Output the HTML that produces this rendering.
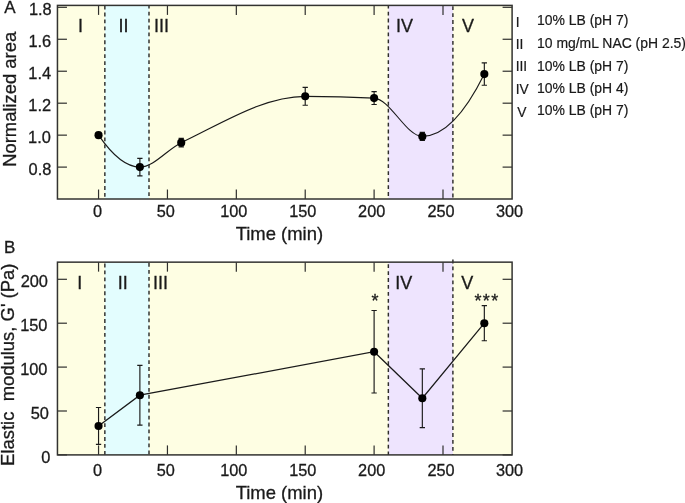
<!DOCTYPE html>
<html><head><meta charset="utf-8"><title>Figure</title>
<style>html,body{margin:0;padding:0;background:#fff}body{width:685px;height:503px;overflow:hidden}</style></head>
<body>
<svg width="685" height="503" viewBox="0 0 685 503" style="display:block">
<rect width="685" height="503" fill="#fff"/>
<rect x="57.45" y="5.4" width="454.65" height="193.60" fill="#fefee3"/>
<rect x="104.85" y="5.4" width="44.15" height="193.60" fill="#e3fdfe"/>
<rect x="388.35" y="5.4" width="64.55" height="193.60" fill="#eee4fe"/>
<line x1="104.85" y1="5.40" x2="104.85" y2="199.0" stroke="#2e2e2c" stroke-width="1.45" stroke-dasharray="3.8,3.14" stroke-dashoffset="6.68"/>
<line x1="149.0" y1="5.40" x2="149.0" y2="199.0" stroke="#2e2e2c" stroke-width="1.45" stroke-dasharray="3.8,3.14" stroke-dashoffset="0.60"/>
<line x1="388.35" y1="5.40" x2="388.35" y2="199.0" stroke="#2e2e2c" stroke-width="1.45" stroke-dasharray="3.8,3.14" stroke-dashoffset="0.70"/>
<line x1="452.9" y1="5.40" x2="452.9" y2="199.0" stroke="#2e2e2c" stroke-width="1.45" stroke-dasharray="3.8,3.14" stroke-dashoffset="6.14"/>
<line x1="98.55" y1="5.4" x2="98.55" y2="14.9" stroke="#30302e" stroke-width="1.2"/>
<line x1="98.55" y1="199.0" x2="98.55" y2="189.5" stroke="#30302e" stroke-width="1.2"/>
<text x="97.65" y="216.70" font-family="Liberation Sans, Arial, sans-serif" stroke="#1a1a1a" stroke-width="0.3" font-size="16.3" text-anchor="middle" fill="#1a1a1a">0</text>
<line x1="167.44" y1="5.4" x2="167.44" y2="14.9" stroke="#30302e" stroke-width="1.2"/>
<line x1="167.44" y1="199.0" x2="167.44" y2="189.5" stroke="#30302e" stroke-width="1.2"/>
<text x="165.84" y="216.70" font-family="Liberation Sans, Arial, sans-serif" stroke="#1a1a1a" stroke-width="0.3" font-size="16.3" text-anchor="middle" fill="#1a1a1a">50</text>
<line x1="236.33" y1="5.4" x2="236.33" y2="14.9" stroke="#30302e" stroke-width="1.2"/>
<line x1="236.33" y1="199.0" x2="236.33" y2="189.5" stroke="#30302e" stroke-width="1.2"/>
<text x="233.73" y="216.70" font-family="Liberation Sans, Arial, sans-serif" stroke="#1a1a1a" stroke-width="0.3" font-size="16.3" text-anchor="middle" fill="#1a1a1a">100</text>
<line x1="305.22" y1="5.4" x2="305.22" y2="14.9" stroke="#30302e" stroke-width="1.2"/>
<line x1="305.22" y1="199.0" x2="305.22" y2="189.5" stroke="#30302e" stroke-width="1.2"/>
<text x="302.82" y="216.70" font-family="Liberation Sans, Arial, sans-serif" stroke="#1a1a1a" stroke-width="0.3" font-size="16.3" text-anchor="middle" fill="#1a1a1a">150</text>
<line x1="374.11" y1="5.4" x2="374.11" y2="14.9" stroke="#30302e" stroke-width="1.2"/>
<line x1="374.11" y1="199.0" x2="374.11" y2="189.5" stroke="#30302e" stroke-width="1.2"/>
<text x="371.71" y="216.70" font-family="Liberation Sans, Arial, sans-serif" stroke="#1a1a1a" stroke-width="0.3" font-size="16.3" text-anchor="middle" fill="#1a1a1a">200</text>
<line x1="443.00" y1="5.4" x2="443.00" y2="14.9" stroke="#30302e" stroke-width="1.2"/>
<line x1="443.00" y1="199.0" x2="443.00" y2="189.5" stroke="#30302e" stroke-width="1.2"/>
<text x="441.00" y="216.70" font-family="Liberation Sans, Arial, sans-serif" stroke="#1a1a1a" stroke-width="0.3" font-size="16.3" text-anchor="middle" fill="#1a1a1a">250</text>
<text x="509.49" y="216.70" font-family="Liberation Sans, Arial, sans-serif" stroke="#1a1a1a" stroke-width="0.3" font-size="16.3" text-anchor="middle" fill="#1a1a1a">300</text>
<line x1="57.45" y1="167.11" x2="66.95" y2="167.11" stroke="#30302e" stroke-width="1.2"/>
<line x1="512.1" y1="167.11" x2="502.6" y2="167.11" stroke="#30302e" stroke-width="1.2"/>
<text x="51.4" y="175.21" font-family="Liberation Sans, Arial, sans-serif" stroke="#1a1a1a" stroke-width="0.3" font-size="16.4" text-anchor="end" fill="#1a1a1a">0.8</text>
<line x1="57.45" y1="135.15" x2="66.95" y2="135.15" stroke="#30302e" stroke-width="1.2"/>
<line x1="512.1" y1="135.15" x2="502.6" y2="135.15" stroke="#30302e" stroke-width="1.2"/>
<text x="50.9" y="142.95" font-family="Liberation Sans, Arial, sans-serif" stroke="#1a1a1a" stroke-width="0.3" font-size="16.4" text-anchor="end" fill="#1a1a1a">1.0</text>
<line x1="57.45" y1="103.19" x2="66.95" y2="103.19" stroke="#30302e" stroke-width="1.2"/>
<line x1="512.1" y1="103.19" x2="502.6" y2="103.19" stroke="#30302e" stroke-width="1.2"/>
<text x="51.1" y="110.79" font-family="Liberation Sans, Arial, sans-serif" stroke="#1a1a1a" stroke-width="0.3" font-size="16.4" text-anchor="end" fill="#1a1a1a">1.2</text>
<line x1="57.45" y1="71.23" x2="66.95" y2="71.23" stroke="#30302e" stroke-width="1.2"/>
<line x1="512.1" y1="71.23" x2="502.6" y2="71.23" stroke="#30302e" stroke-width="1.2"/>
<text x="51.1" y="78.63" font-family="Liberation Sans, Arial, sans-serif" stroke="#1a1a1a" stroke-width="0.3" font-size="16.4" text-anchor="end" fill="#1a1a1a">1.4</text>
<line x1="57.45" y1="39.27" x2="66.95" y2="39.27" stroke="#30302e" stroke-width="1.2"/>
<line x1="512.1" y1="39.27" x2="502.6" y2="39.27" stroke="#30302e" stroke-width="1.2"/>
<text x="51.2" y="46.87" font-family="Liberation Sans, Arial, sans-serif" stroke="#1a1a1a" stroke-width="0.3" font-size="16.4" text-anchor="end" fill="#1a1a1a">1.6</text>
<line x1="57.45" y1="7.31" x2="66.95" y2="7.31" stroke="#30302e" stroke-width="1.2"/>
<line x1="512.1" y1="7.31" x2="502.6" y2="7.31" stroke="#30302e" stroke-width="1.2"/>
<text x="51.7" y="14.81" font-family="Liberation Sans, Arial, sans-serif" stroke="#1a1a1a" stroke-width="0.3" font-size="16.4" text-anchor="end" fill="#1a1a1a">1.8</text>
<rect x="57.45" y="5.4" width="454.65" height="193.60" fill="none" stroke="#333331" stroke-width="1.5"/>
<text x="279.4" y="239.50" font-family="Liberation Sans, Arial, sans-serif" stroke="#1a1a1a" stroke-width="0.3" font-size="18.45" text-anchor="middle" fill="#1a1a1a">Time (min)</text>
<rect x="57.45" y="262.15" width="454.65" height="192.75" fill="#fefee3"/>
<rect x="104.85" y="262.15" width="44.15" height="192.75" fill="#e3fdfe"/>
<rect x="388.35" y="262.15" width="64.55" height="192.75" fill="#eee4fe"/>
<line x1="104.85" y1="262.15" x2="104.85" y2="454.9" stroke="#2e2e2c" stroke-width="1.45" stroke-dasharray="3.8,3.14" stroke-dashoffset="5.49"/>
<line x1="149.0" y1="262.15" x2="149.0" y2="454.9" stroke="#2e2e2c" stroke-width="1.45" stroke-dasharray="3.8,3.14" stroke-dashoffset="6.09"/>
<line x1="388.35" y1="262.15" x2="388.35" y2="454.9" stroke="#2e2e2c" stroke-width="1.45" stroke-dasharray="3.8,3.14" stroke-dashoffset="4.89"/>
<line x1="452.9" y1="259.60" x2="452.9" y2="454.9" stroke="#2e2e2c" stroke-width="1.45" stroke-dasharray="3.8,3.14" stroke-dashoffset="0.00"/>
<line x1="98.55" y1="262.15" x2="98.55" y2="271.65" stroke="#30302e" stroke-width="1.2"/>
<line x1="98.55" y1="454.9" x2="98.55" y2="445.4" stroke="#30302e" stroke-width="1.2"/>
<text x="97.65" y="475.80" font-family="Liberation Sans, Arial, sans-serif" stroke="#1a1a1a" stroke-width="0.3" font-size="16.3" text-anchor="middle" fill="#1a1a1a">0</text>
<line x1="167.44" y1="262.15" x2="167.44" y2="271.65" stroke="#30302e" stroke-width="1.2"/>
<line x1="167.44" y1="454.9" x2="167.44" y2="445.4" stroke="#30302e" stroke-width="1.2"/>
<text x="165.84" y="475.80" font-family="Liberation Sans, Arial, sans-serif" stroke="#1a1a1a" stroke-width="0.3" font-size="16.3" text-anchor="middle" fill="#1a1a1a">50</text>
<line x1="236.33" y1="262.15" x2="236.33" y2="271.65" stroke="#30302e" stroke-width="1.2"/>
<line x1="236.33" y1="454.9" x2="236.33" y2="445.4" stroke="#30302e" stroke-width="1.2"/>
<text x="233.73" y="475.80" font-family="Liberation Sans, Arial, sans-serif" stroke="#1a1a1a" stroke-width="0.3" font-size="16.3" text-anchor="middle" fill="#1a1a1a">100</text>
<line x1="305.22" y1="262.15" x2="305.22" y2="271.65" stroke="#30302e" stroke-width="1.2"/>
<line x1="305.22" y1="454.9" x2="305.22" y2="445.4" stroke="#30302e" stroke-width="1.2"/>
<text x="302.82" y="475.80" font-family="Liberation Sans, Arial, sans-serif" stroke="#1a1a1a" stroke-width="0.3" font-size="16.3" text-anchor="middle" fill="#1a1a1a">150</text>
<line x1="374.11" y1="262.15" x2="374.11" y2="271.65" stroke="#30302e" stroke-width="1.2"/>
<line x1="374.11" y1="454.9" x2="374.11" y2="445.4" stroke="#30302e" stroke-width="1.2"/>
<text x="371.71" y="475.80" font-family="Liberation Sans, Arial, sans-serif" stroke="#1a1a1a" stroke-width="0.3" font-size="16.3" text-anchor="middle" fill="#1a1a1a">200</text>
<line x1="443.00" y1="262.15" x2="443.00" y2="271.65" stroke="#30302e" stroke-width="1.2"/>
<line x1="443.00" y1="454.9" x2="443.00" y2="445.4" stroke="#30302e" stroke-width="1.2"/>
<text x="441.00" y="475.80" font-family="Liberation Sans, Arial, sans-serif" stroke="#1a1a1a" stroke-width="0.3" font-size="16.3" text-anchor="middle" fill="#1a1a1a">250</text>
<text x="509.49" y="475.80" font-family="Liberation Sans, Arial, sans-serif" stroke="#1a1a1a" stroke-width="0.3" font-size="16.3" text-anchor="middle" fill="#1a1a1a">300</text>
<line x1="57.45" y1="454.90" x2="66.95" y2="454.90" stroke="#30302e" stroke-width="1.2"/>
<line x1="512.1" y1="454.90" x2="502.6" y2="454.90" stroke="#30302e" stroke-width="1.2"/>
<text x="50.4" y="463.30" font-family="Liberation Sans, Arial, sans-serif" stroke="#1a1a1a" stroke-width="0.3" font-size="16.4" text-anchor="end" fill="#1a1a1a">0</text>
<line x1="57.45" y1="411.00" x2="66.95" y2="411.00" stroke="#30302e" stroke-width="1.2"/>
<line x1="512.1" y1="411.00" x2="502.6" y2="411.00" stroke="#30302e" stroke-width="1.2"/>
<text x="48.9" y="418.75" font-family="Liberation Sans, Arial, sans-serif" stroke="#1a1a1a" stroke-width="0.3" font-size="16.4" text-anchor="end" fill="#1a1a1a">50</text>
<line x1="57.45" y1="367.10" x2="66.95" y2="367.10" stroke="#30302e" stroke-width="1.2"/>
<line x1="512.1" y1="367.10" x2="502.6" y2="367.10" stroke="#30302e" stroke-width="1.2"/>
<text x="47.5" y="375.05" font-family="Liberation Sans, Arial, sans-serif" stroke="#1a1a1a" stroke-width="0.3" font-size="16.4" text-anchor="end" fill="#1a1a1a">100</text>
<line x1="57.45" y1="323.20" x2="66.95" y2="323.20" stroke="#30302e" stroke-width="1.2"/>
<line x1="512.1" y1="323.20" x2="502.6" y2="323.20" stroke="#30302e" stroke-width="1.2"/>
<text x="47.5" y="331.05" font-family="Liberation Sans, Arial, sans-serif" stroke="#1a1a1a" stroke-width="0.3" font-size="16.4" text-anchor="end" fill="#1a1a1a">150</text>
<line x1="57.45" y1="279.30" x2="66.95" y2="279.30" stroke="#30302e" stroke-width="1.2"/>
<line x1="512.1" y1="279.30" x2="502.6" y2="279.30" stroke="#30302e" stroke-width="1.2"/>
<text x="48.0" y="287.15" font-family="Liberation Sans, Arial, sans-serif" stroke="#1a1a1a" stroke-width="0.3" font-size="16.4" text-anchor="end" fill="#1a1a1a">200</text>
<rect x="57.45" y="262.15" width="454.65" height="192.75" fill="none" stroke="#333331" stroke-width="1.5"/>
<text x="279.4" y="498.50" font-family="Liberation Sans, Arial, sans-serif" stroke="#1a1a1a" stroke-width="0.3" font-size="18.45" text-anchor="middle" fill="#1a1a1a">Time (min)</text>
<path d="M98.55 135.15C112.33 155.20 126.11 167.11 139.88 167.11C153.66 167.11 167.44 149.22 181.22 142.66C222.55 122.99 263.89 96.32 305.22 96.32C328.18 96.32 351.15 96.87 374.11 98.08C390.18 98.92 406.26 136.43 422.33 136.43C443.00 136.43 463.67 115.81 484.33 74.11" stroke="#1a1a1a" stroke-width="1.15" fill="none"/>
<circle cx="98.55" cy="135.15" r="4.05" fill="#000"/>
<path d="M139.88 158.32V175.90M137.23 158.32H142.53M137.23 175.90H142.53" stroke="#1a1a1a" stroke-width="1.15" fill="none"/>
<circle cx="139.88" cy="167.11" r="4.05" fill="#000"/>
<path d="M181.22 138.38V146.94M178.57 138.38H183.87M178.57 146.94H183.87" stroke="#1a1a1a" stroke-width="1.15" fill="none"/>
<circle cx="181.22" cy="142.66" r="4.05" fill="#000"/>
<path d="M305.22 87.37V105.27M302.57 87.37H307.87M302.57 105.27H307.87" stroke="#1a1a1a" stroke-width="1.15" fill="none"/>
<circle cx="305.22" cy="96.32" r="4.05" fill="#000"/>
<path d="M374.11 91.68V104.47M371.46 91.68H376.76M371.46 104.47H376.76" stroke="#1a1a1a" stroke-width="1.15" fill="none"/>
<circle cx="374.11" cy="98.08" r="4.05" fill="#000"/>
<path d="M422.33 132.40V140.46M419.68 132.40H424.98M419.68 140.46H424.98" stroke="#1a1a1a" stroke-width="1.15" fill="none"/>
<circle cx="422.33" cy="136.43" r="4.05" fill="#000"/>
<path d="M484.33 62.92V85.29M481.68 62.92H486.98M481.68 85.29H486.98" stroke="#1a1a1a" stroke-width="1.15" fill="none"/>
<circle cx="484.33" cy="74.11" r="4.05" fill="#000"/>
<path d="M98.55 425.93 L139.88 395.20 L374.11 351.73 L422.33 398.27 L484.33 323.20" stroke="#1a1a1a" stroke-width="1.25" fill="none"/>
<path d="M98.55 407.49V444.36M95.90 407.49H101.20M95.90 444.36H101.20" stroke="#1a1a1a" stroke-width="1.15" fill="none"/>
<circle cx="98.55" cy="425.93" r="4.05" fill="#000"/>
<path d="M139.88 365.34V425.05M137.23 365.34H142.53M137.23 425.05H142.53" stroke="#1a1a1a" stroke-width="1.15" fill="none"/>
<circle cx="139.88" cy="395.20" r="4.05" fill="#000"/>
<path d="M374.11 310.47V393.00M371.46 310.47H376.76M371.46 393.00H376.76" stroke="#1a1a1a" stroke-width="1.15" fill="none"/>
<circle cx="374.11" cy="351.73" r="4.05" fill="#000"/>
<path d="M422.33 368.86V427.68M419.68 368.86H424.98M419.68 427.68H424.98" stroke="#1a1a1a" stroke-width="1.15" fill="none"/>
<circle cx="422.33" cy="398.27" r="4.05" fill="#000"/>
<path d="M484.33 305.64V340.76M481.68 305.64H486.98M481.68 340.76H486.98" stroke="#1a1a1a" stroke-width="1.15" fill="none"/>
<circle cx="484.33" cy="323.20" r="4.05" fill="#000"/>
<text x="80.5" y="31.60" font-family="Liberation Sans, Arial, sans-serif" stroke="#1a1a1a" stroke-width="0.3" font-size="18" text-anchor="middle" fill="#1a1a1a">I</text>
<text x="123.6" y="31.60" font-family="Liberation Sans, Arial, sans-serif" stroke="#1a1a1a" stroke-width="0.3" font-size="18" text-anchor="middle" fill="#1a1a1a">II</text>
<text x="161.4" y="31.60" font-family="Liberation Sans, Arial, sans-serif" stroke="#1a1a1a" stroke-width="0.3" font-size="18" text-anchor="middle" fill="#1a1a1a">III</text>
<text x="404.6" y="31.60" font-family="Liberation Sans, Arial, sans-serif" stroke="#1a1a1a" stroke-width="0.3" font-size="18" text-anchor="middle" fill="#1a1a1a">IV</text>
<text x="468.0" y="31.60" font-family="Liberation Sans, Arial, sans-serif" stroke="#1a1a1a" stroke-width="0.3" font-size="18" text-anchor="middle" fill="#1a1a1a">V</text>
<text x="79.7" y="288.95" font-family="Liberation Sans, Arial, sans-serif" stroke="#1a1a1a" stroke-width="0.3" font-size="18" text-anchor="middle" fill="#1a1a1a">I</text>
<text x="122.8" y="288.95" font-family="Liberation Sans, Arial, sans-serif" stroke="#1a1a1a" stroke-width="0.3" font-size="18" text-anchor="middle" fill="#1a1a1a">II</text>
<text x="160.6" y="288.95" font-family="Liberation Sans, Arial, sans-serif" stroke="#1a1a1a" stroke-width="0.3" font-size="18" text-anchor="middle" fill="#1a1a1a">III</text>
<text x="403.8" y="288.95" font-family="Liberation Sans, Arial, sans-serif" stroke="#1a1a1a" stroke-width="0.3" font-size="18" text-anchor="middle" fill="#1a1a1a">IV</text>
<text x="467.2" y="288.95" font-family="Liberation Sans, Arial, sans-serif" stroke="#1a1a1a" stroke-width="0.3" font-size="18" text-anchor="middle" fill="#1a1a1a">V</text>
<text x="4.3" y="12.9" font-family="Liberation Sans, Arial, sans-serif" stroke="#1a1a1a" stroke-width="0.3" font-size="17" fill="#1a1a1a">A</text>
<text x="4.0" y="253.4" font-family="Liberation Sans, Arial, sans-serif" stroke="#1a1a1a" stroke-width="0.3" font-size="17" fill="#1a1a1a">B</text>
<text transform="translate(15.9,166.8) rotate(-90)" font-family="Liberation Sans, Arial, sans-serif" stroke="#1a1a1a" stroke-width="0.3" font-size="18.4" fill="#1a1a1a">Normalized area</text>
<text transform="translate(14.0,465.9) rotate(-90)" font-family="Liberation Sans, Arial, sans-serif" stroke="#1a1a1a" stroke-width="0.3" font-size="18.45" fill="#1a1a1a" xml:space="preserve">Elastic  modulus, G' (Pa)</text>
<text x="371.4" y="306.6" font-family="Liberation Sans, Arial, sans-serif" stroke="#1a1a1a" stroke-width="0.3" font-size="18" fill="#1a1a1a">*</text>
<text x="474.5" y="306.6" font-family="Liberation Sans, Arial, sans-serif" stroke="#1a1a1a" stroke-width="0.3" font-size="18" fill="#1a1a1a" letter-spacing="1.35">***</text>
<text x="515.7" y="26.6" font-family="Liberation Sans, Arial, sans-serif" stroke="#1a1a1a" stroke-width="0.2" font-size="13.8" fill="#1a1a1a">I</text>
<text x="537.0" y="24.9" font-family="Liberation Sans, Arial, sans-serif" stroke="#1a1a1a" stroke-width="0.2" font-size="13.95" fill="#1a1a1a">10% LB (pH 7)</text>
<text x="515.7" y="48.8" font-family="Liberation Sans, Arial, sans-serif" stroke="#1a1a1a" stroke-width="0.2" font-size="13.8" fill="#1a1a1a">II</text>
<text x="537.0" y="48.3" font-family="Liberation Sans, Arial, sans-serif" stroke="#1a1a1a" stroke-width="0.2" font-size="13.95" fill="#1a1a1a">10 mg/mL NAC (pH 2.5)</text>
<text x="515.7" y="71.3" font-family="Liberation Sans, Arial, sans-serif" stroke="#1a1a1a" stroke-width="0.2" font-size="13.8" fill="#1a1a1a">III</text>
<text x="537.0" y="70.5" font-family="Liberation Sans, Arial, sans-serif" stroke="#1a1a1a" stroke-width="0.2" font-size="13.95" fill="#1a1a1a">10% LB (pH 7)</text>
<text x="515.7" y="93.8" font-family="Liberation Sans, Arial, sans-serif" stroke="#1a1a1a" stroke-width="0.2" font-size="13.8" fill="#1a1a1a">IV</text>
<text x="537.0" y="92.9" font-family="Liberation Sans, Arial, sans-serif" stroke="#1a1a1a" stroke-width="0.2" font-size="13.95" fill="#1a1a1a">10% LB (pH 4)</text>
<text x="517.2" y="116.6" font-family="Liberation Sans, Arial, sans-serif" stroke="#1a1a1a" stroke-width="0.2" font-size="13.8" fill="#1a1a1a">V</text>
<text x="537.0" y="115.4" font-family="Liberation Sans, Arial, sans-serif" stroke="#1a1a1a" stroke-width="0.2" font-size="13.95" fill="#1a1a1a">10% LB (pH 7)</text>
</svg>
</body></html>
